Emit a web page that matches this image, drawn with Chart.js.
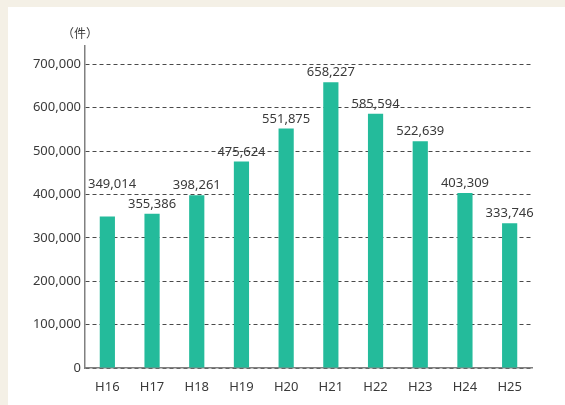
<!DOCTYPE html>
<html>
<head>
<meta charset="utf-8">
<script src="https://cdn.jsdelivr.net/npm/chart.js@4"></script>
<style>
  body { margin: 0; background: #f4f0e6; }
  #panel { position: absolute; left: 8px; top: 7px; right: 0; bottom: 0; background: #fff; }
  #wrap { position: absolute; left: 0; top: 0; width: 565px; height: 405px; }
</style>
</head>
<body>
<div id="panel"></div>
<div id="wrap"><canvas id="barChart"></canvas></div>
<script>
const years = ["H16", "H17", "H18", "H19", "H20", "H21", "H22", "H23", "H24", "H25"];
const cases = [349014, 355386, 398261, 475624, 551875, 658227, 585594, 522639, 403309, 333746];
const yTicks = [0, 100000, 200000, 300000, 400000, 500000, 600000, 700000];
const unitLabel = "（件）";

const FONT = "'Noto Sans', 'Noto Sans CJK JP', sans-serif";

// value labels above bars (lifted when they run into the next one) + unit label
const labelPlugin = {
    id: "labels",
    afterDatasetsDraw(chart) {
        const c = chart.ctx;
        const area = chart.chartArea;
        c.save();
        c.fillStyle = "#3a3a3a";
        c.font = "13px " + FONT;
        c.textAlign = "center";
        c.textBaseline = "alphabetic";
        const bars = chart.getDatasetMeta(0).data;
        const texts = cases.map(v => v.toLocaleString("en-US"));
        const widths = texts.map(t => c.measureText(t).width);
        const xs = bars.map((b, i) => Math.max(b.x, area.left + 3 + widths[i] / 2));
        const ys = bars.map(b => b.y - 6);
        for (let i = bars.length - 2; i >= 0; i--) {
            const hOverlap = xs[i + 1] - xs[i] < (widths[i] + widths[i + 1]) / 2 + 2;
            if (hOverlap && Math.abs(ys[i] - ys[i + 1]) < 18) {
                ys[i] = Math.min(ys[i], ys[i + 1] - 20);
            }
        }
        texts.forEach((t, i) => c.fillText(t, xs[i], ys[i]));
        c.font = "12px " + FONT;
        c.textBaseline = "middle";
        c.fillText(unitLabel, area.left - 5, area.top - 11);
        c.restore();
    }
};

const ctx = document.getElementById("barChart");
const chart = new Chart(ctx, {
    type: "bar",
    data: {
        labels: years,
        datasets: [
            {
                label: "件数",
                data: cases,
                backgroundColor: "#24bb9b",
                barPercentage: 0.34,
                categoryPercentage: 1
            }
        ]
    },
    plugins: [labelPlugin],
    options: {
        responsive: true,
        maintainAspectRatio: false,
        animation: false,
        layout: { padding: { top: 46, right: 33, left: 0, bottom: 0 } },
        plugins: { legend: { display: false }, tooltip: { enabled: false } },
        scales: {
            x: {
                grid: { display: false, drawTicks: false },
                border: { color: "#808080", width: 1.5 },
                ticks: { color: "#3a3a3a", font: { family: FONT, size: 13 }, padding: 11 },
                afterFit(scale) { scale.height = 37; }
            },
            y: {
                min: 0,
                max: 742000,
                afterBuildTicks(scale) {
                    scale.ticks = yTicks.map(v => ({ value: v }));
                },
                grid: { color: "#4a4a4a", lineWidth: 1, drawTicks: false },
                border: { color: "#808080", width: 1.5, dash: [4, 3] },
                ticks: {
                    color: "#3a3a3a",
                    font: { family: FONT, size: 13 },
                    padding: 4,
                    callback: v => v.toLocaleString("en-US")
                },
                afterFit(scale) { scale.width = 85; }
            }
        }
    }
});
</script>
</body>
</html>
